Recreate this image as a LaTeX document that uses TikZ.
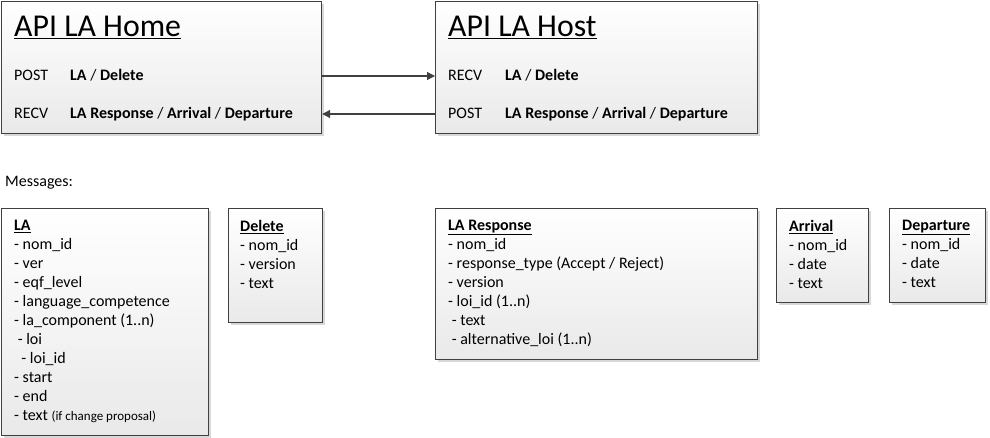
\documentclass[tikz,border=0pt]{standalone}
\usepackage{fontspec}
\setmainfont{Carlito}
\usetikzlibrary{arrows.meta,shadows}
\definecolor{edge}{HTML}{404040}
\definecolor{shade}{HTML}{E9E9E9}
\definecolor{shad}{HTML}{D8D8D8}
\begin{document}
\begin{tikzpicture}[x=1pt,y=-1pt,
  box/.style={draw=edge, line width=1.2pt, top color=white, bottom color=shade,
    drop shadow={shadow xshift=2.5pt, shadow yshift=-2.5pt, fill=shad, opacity=1},
    anchor=north west, inner sep=0pt},
  txt/.style={anchor=base west, inner sep=0pt, font=\fontsize{16}{19}\selectfont},
  title/.style={anchor=base west, inner sep=0pt, font=\fontsize{31.8}{36}\selectfont},
  list/.style={anchor=north west, inner sep=0pt, align=left, font=\fontsize{16}{19}\selectfont},
  conn/.style={draw=edge, line width=1.1pt, -{Triangle[length=8pt,width=8pt]}}
]
\useasboundingbox (0,0) rectangle (990,438);
% API boxes
\node[box, minimum width=320pt, minimum height=132pt] (home) at (1,1) {};
\node[box, minimum width=322pt, minimum height=132pt] (host) at (435,1) {};
\node[title] (hometitle) at (14,37) {\underline{API LA Home}};
\node[txt] (homepost) at (14,81) {POST};
\node[txt] (homepostv) at (70,81) {\textbf{LA} / \textbf{Delete}};
\node[txt] (homerecv) at (14,119) {RECV};
\node[txt] (homerecvv) at (70,119) {\textbf{LA Response} / \textbf{Arrival} / \textbf{Departure}};
\node[title] (hosttitle) at (448,37) {\underline{API LA Host}};
\node[txt] (hostrecv) at (448,81) {RECV};
\node[txt] (hostrecvv) at (505,81) {\textbf{LA} / \textbf{Delete}};
\node[txt] (hostpost) at (448,119) {POST};
\node[txt] (hostpostv) at (505,119) {\textbf{LA Response} / \textbf{Arrival} / \textbf{Departure}};
\coordinate (r1) at (0,76);
\coordinate (r2) at (0,114);
\draw[conn] (home.east |- r1) -- (host.west |- r1);
\draw[conn] (host.west |- r2) -- (home.east |- r2);
% Messages
\node[txt] (msg) at (5,187) {Messages:};
\node[box, minimum width=207pt, minimum height=227pt] (la) at (1,208) {};
\node[box, minimum width=94pt, minimum height=114pt] (del) at (228,208) {};
\node[box, minimum width=322pt, minimum height=151pt] (resp) at (435,208) {};
\node[box, minimum width=92pt, minimum height=94pt] (arr) at (776,208) {};
\node[box, minimum width=96pt, minimum height=94pt] (dep) at (889,208) {};
\node[list] (latxt) at (14,220) {\textbf{\underline{LA}}\\
- nom\_id\\
- ver\\
- eqf\_level\\
- language\_competence\\
- la\_component (1..n)\\
\hspace{3.6pt}- loi\\
\hspace{7.2pt}- loi\_id\\
- start\\
- end\\
- text {\fontsize{13}{19}\selectfont (if change proposal)}};
\node[list] (deltxt) at (240,220) {\textbf{\underline{Delete}}\\
- nom\_id\\
- version\\
- text};
\node[list] (resptxt) at (448,220) {\textbf{\underline{LA Response}}\\
- nom\_id\\
- response\_type (Accept / Reject)\\
- version\\
- loi\_id (1..n)\\
\hspace{3.6pt}- text\\
\hspace{3.6pt}- alternative\_loi (1..n)};
\node[list] (arrtxt) at (789,220) {\textbf{\underline{Arrival}}\\
- nom\_id\\
- date\\
- text};
\node[list] (deptxt) at (902,220) {\textbf{\underline{Departure}}\\
- nom\_id\\
- date\\
- text};
\end{tikzpicture}
\end{document}
